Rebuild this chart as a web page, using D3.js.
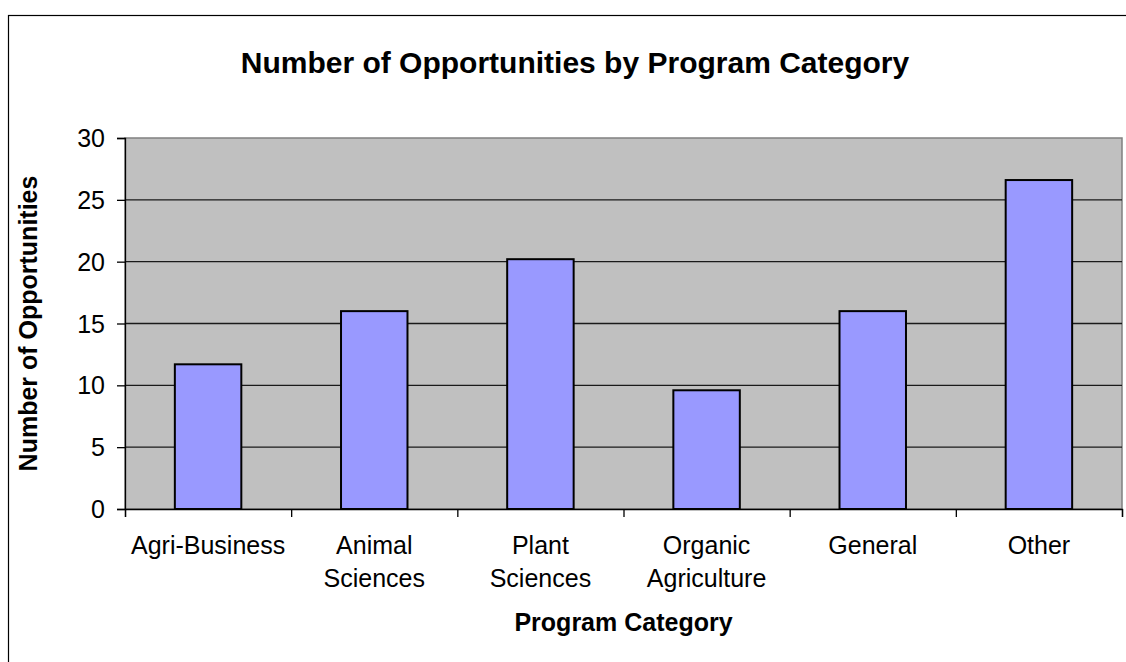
<!DOCTYPE html>
<html>
<head>
<meta charset="utf-8">
<script src="https://cdn.jsdelivr.net/npm/d3@7/dist/d3.min.js"></script>
<style>
  html, body { margin: 0; padding: 0; background: #fff; }
  svg { display: block; }
  text { font-family: Arial, "Liberation Sans", sans-serif; fill: #000; }
</style>
</head>
<body>
<svg id="chart" width="1126" height="662"></svg>
<script>
// Chart data
const categories = ["Agri-Business", "Animal\nSciences", "Plant\nSciences", "Organic\nAgriculture", "General", "Other"];
const values = [11.7, 16.0, 20.2, 9.6, 16.0, 26.6];
const yTicks = [0, 5, 10, 15, 20, 25, 30];

const titleText = "Number of Opportunities by Program Category";
const xTitle = "Program Category";
const yTitle = "Number of Opportunities";

const svg = d3.select("#chart");

// Plot area bounds
const plotLeft = 125, plotRight = 1122, plotTop = 138, plotBottom = 509;

// Outer chart frame (extends past the right/bottom of the view)
svg.append("rect")
  .attr("x", 8.5).attr("y", 15.5)
  .attr("width", 1134).attr("height", 700)
  .attr("fill", "#fff").attr("stroke", "#000").attr("stroke-width", 1.2);

const x = d3.scaleBand()
  .domain(categories)
  .range([plotLeft, plotRight])
  .paddingInner(0.6)
  .paddingOuter(0.3);

const y = d3.scaleLinear().domain([0, 30]).range([plotBottom, plotTop]);

// Plot background
svg.append("rect")
  .attr("x", plotLeft).attr("y", plotTop)
  .attr("width", plotRight - plotLeft).attr("height", plotBottom - plotTop)
  .attr("fill", "#C0C0C0").attr("stroke", "#808080").attr("stroke-width", 1.5);

// Horizontal gridlines
svg.append("g")
  .selectAll("line")
  .data(yTicks.filter(t => t > 0 && t < 30))
  .join("line")
  .attr("x1", plotLeft).attr("x2", plotRight)
  .attr("y1", d => y(d)).attr("y2", d => y(d))
  .attr("stroke", "#1a1a1a").attr("stroke-width", 1.3);

// Bars
svg.append("g")
  .selectAll("rect")
  .data(values)
  .join("rect")
  .attr("x", (d, i) => x(categories[i]))
  .attr("y", d => y(d))
  .attr("width", x.bandwidth())
  .attr("height", d => y(0) - y(d))
  .attr("fill", "#9999FF")
  .attr("stroke", "#000")
  .attr("stroke-width", 2);

// Y axis
const yAxis = svg.append("g")
  .attr("transform", `translate(${plotLeft},0)`)
  .call(d3.axisLeft(y).tickValues(yTicks).tickSize(8).tickPadding(12));
yAxis.select(".domain").attr("stroke", "#000").attr("stroke-width", 1.3);
yAxis.selectAll(".tick line").attr("stroke", "#000").attr("stroke-width", 1.3);
yAxis.selectAll(".tick text")
  .style("font-size", "25px")
  .attr("dy", "0.34em");

// X axis: tick marks at category boundaries
const edge = d3.scaleLinear().domain([0, categories.length]).range([plotLeft, plotRight]);
const xAxis = svg.append("g")
  .attr("transform", `translate(0,${plotBottom})`)
  .call(d3.axisBottom(edge).ticks(categories.length).tickSize(8).tickFormat(""));
xAxis.select(".domain").attr("stroke", "#000").attr("stroke-width", 1.3);
xAxis.selectAll(".tick line").attr("stroke", "#000").attr("stroke-width", 1.3);

// Category labels (one or two lines)
const labels = svg.append("g")
  .selectAll("text")
  .data(categories)
  .join("text")
  .attr("text-anchor", "middle")
  .style("font-size", "25px")
  .attr("transform", d => `translate(${x(d) + x.bandwidth() / 2},554)`);
labels.selectAll("tspan")
  .data(d => d.split("\n"))
  .join("tspan")
  .attr("x", 0)
  .attr("y", (d, i) => i * 33)
  .text(d => d);

// Titles
svg.append("text")
  .attr("x", 575).attr("y", 73)
  .attr("text-anchor", "middle")
  .style("font-size", "30px").style("font-weight", "bold")
  .text(titleText);

svg.append("text")
  .attr("x", (plotLeft + plotRight) / 2).attr("y", 631)
  .attr("text-anchor", "middle")
  .style("font-size", "25px").style("font-weight", "bold")
  .text(xTitle);

svg.append("text")
  .attr("transform", `translate(37,${(plotTop + plotBottom) / 2}) rotate(-90)`)
  .attr("text-anchor", "middle")
  .style("font-size", "25px").style("font-weight", "bold")
  .text(yTitle);
</script>
</body>
</html>
